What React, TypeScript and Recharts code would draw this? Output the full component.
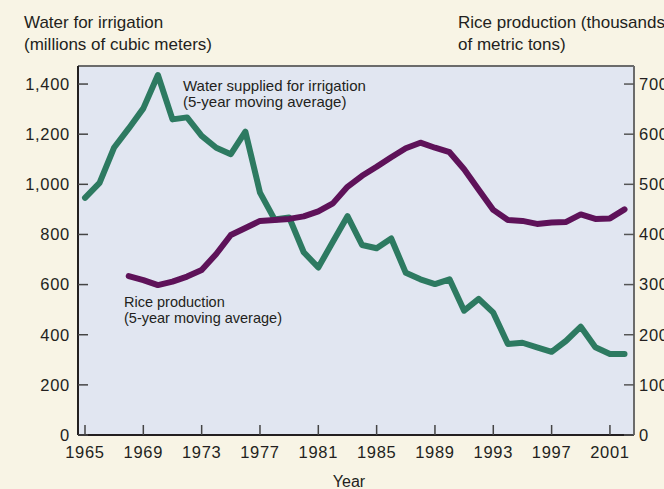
import React from 'react';
import { LineChart, Line, XAxis, YAxis, CartesianGrid, ReferenceLine } from 'recharts';

const years = [
  1965, 1966, 1967, 1968, 1969, 1970, 1971, 1972, 1973, 1974,
  1975, 1976, 1977, 1978, 1979, 1980, 1981, 1982, 1983, 1984,
  1985, 1986, 1987, 1988, 1989, 1990, 1991, 1992, 1993, 1994,
  1995, 1996, 1997, 1998, 1999, 2000, 2001, 2002,
];

const waterIrrigation = [
  946, 1006, 1147, 1223, 1303, 1436, 1259, 1267, 1193, 1146,
  1120, 1210, 967, 860, 868, 729, 668, 771, 873, 758,
  745, 784, 647, 621, 602, 621, 496, 543, 488, 363,
  368, 350, 332, 376, 432, 350, 323, 323,
];

const riceProduction: (number | null)[] = [
  null, null, null, 317, 309, 299, 306, 316, 329, 361,
  399, 413, 427, 429, 431, 436, 446, 462, 495, 517,
  535, 554, 572, 583, 573, 564, 530, 489, 449, 429,
  427, 421, 424, 425, 440, 431, 432, 450,
];

const leftTicks = [0, 200, 400, 600, 800, 1000, 1200, 1400];
const rightTicks = [0, 100, 200, 300, 400, 500, 600, 700];
const yearTicks = [1965, 1969, 1973, 1977, 1981, 1985, 1989, 1993, 1997, 2001];

const data = years.map((y, i) => ({
  year: y,
  water: waterIrrigation[i],
  rice: riceProduction[i],
}));

const FONT = '"Liberation Sans", Arial, sans-serif';
const TEXT = '#231F20';
const GREEN = '#2D7A61';
const PURPLE = '#5E1259';
const tickStyle = { fill: TEXT, fontSize: 16.5, fontFamily: FONT, letterSpacing: 0.7 };

export default function App() {
  return (
    <div
      style={{
        position: 'absolute',
        left: 0,
        top: 0,
        width: 664,
        height: 489,
        overflow: 'hidden',
        background: '#F8F4E5',
        fontFamily: FONT,
        color: TEXT,
      }}
    >
      <LineChart
        width={664}
        height={489}
        data={data}
        margin={{ top: 66, right: 0, bottom: 0, left: 0 }}
      >
        <CartesianGrid fill="#E1E6F1" horizontal={false} vertical={false} />
        <XAxis
          dataKey="year"
          type="number"
          domain={[1964.52, 2002.65]}
          ticks={yearTicks}
          height={54}
          tickSize={-10}
          tickMargin={21}
          axisLine={{ stroke: TEXT, strokeWidth: 2 }}
          tickLine={{ stroke: '#444', strokeWidth: 1.5 }}
          tick={tickStyle}
        />
        <YAxis
          yAxisId="left"
          orientation="left"
          width={78}
          domain={[0, 1472]}
          ticks={leftTicks}
          tickFormatter={(v: number) => v.toLocaleString('en-US')}
          tickSize={-10}
          tickMargin={18}
          axisLine={{ stroke: TEXT, strokeWidth: 2 }}
          tickLine={{ stroke: '#444', strokeWidth: 1.5 }}
          tick={tickStyle}
        />
        <YAxis
          yAxisId="right"
          orientation="right"
          width={30}
          domain={[0, 736]}
          ticks={rightTicks}
          tickSize={-10}
          tickMargin={15}
          axisLine={{ stroke: '#6B6B6B', strokeWidth: 2 }}
          tickLine={{ stroke: '#555', strokeWidth: 1.5 }}
          tick={{ ...tickStyle, textAnchor: 'start' }}
        />
        <ReferenceLine yAxisId="left" y={1472} stroke="#6B6B6B" strokeWidth={2} />
        <Line
          yAxisId="left"
          type="linear"
          dataKey="water"
          stroke={GREEN}
          strokeWidth={6}
          strokeLinejoin="round"
          strokeLinecap="round"
          dot={false}
          activeDot={false}
          isAnimationActive={false}
        />
        <Line
          yAxisId="right"
          type="linear"
          dataKey="rice"
          stroke={PURPLE}
          strokeWidth={6}
          strokeLinejoin="round"
          strokeLinecap="round"
          dot={false}
          activeDot={false}
          connectNulls={false}
          isAnimationActive={false}
        />
      </LineChart>

      <div style={{ position: 'absolute', left: 24, top: 12, fontSize: 17, lineHeight: '22px', whiteSpace: 'nowrap' }}>
        Water for irrigation
        <br />
        (millions of cubic meters)
      </div>
      <div style={{ position: 'absolute', left: 458, top: 12, fontSize: 17, lineHeight: '22px', whiteSpace: 'nowrap' }}>
        Rice production (thousands
        <br />
        of metric tons)
      </div>
      <div style={{ position: 'absolute', left: 183, top: 78, fontSize: 15, lineHeight: '16px', whiteSpace: 'nowrap' }}>
        Water supplied for irrigation
        <br />
        (5-year moving average)
      </div>
      <div style={{ position: 'absolute', left: 124, top: 294, fontSize: 14.5, lineHeight: '16px', whiteSpace: 'nowrap' }}>
        Rice production
        <br />
        (5-year moving average)
      </div>
      <div
        style={{
          position: 'absolute',
          left: 349,
          top: 473,
          transform: 'translateX(-50%)',
          fontSize: 16,
          lineHeight: '18px',
          whiteSpace: 'nowrap',
        }}
      >
        Year
      </div>
    </div>
  );
}
